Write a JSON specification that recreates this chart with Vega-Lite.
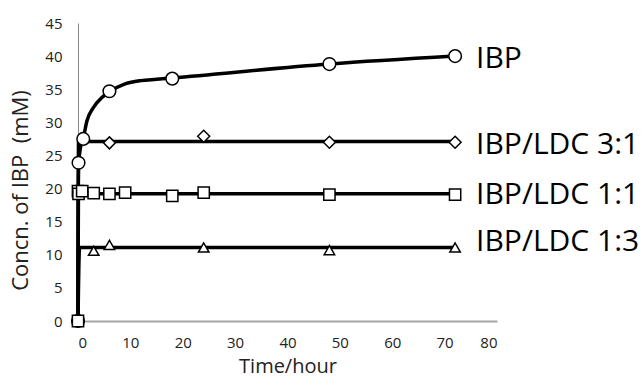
{
  "$schema": "https://vega.github.io/schema/vega-lite/v6.json",
  "autosize": "none",
  "width": 419,
  "height": 298,
  "padding": {"left": 78, "top": 23, "right": 145, "bottom": 57},
  "background": "white",
  "config": {"view": {"stroke": null}, "font": "Open Sans"},
  "datasets": {
    "pts": [
      {"series": "IBP", "t": 0, "c": 0},
      {"series": "IBP", "t": 0.1, "c": 23.9},
      {"series": "IBP", "t": 1, "c": 27.5},
      {"series": "IBP", "t": 6, "c": 34.7},
      {"series": "IBP", "t": 18, "c": 36.6},
      {"series": "IBP", "t": 48, "c": 38.8},
      {"series": "IBP", "t": 72, "c": 40.0},
      {"series": "IBP/LDC 3:1", "t": 6, "c": 26.9},
      {"series": "IBP/LDC 3:1", "t": 24, "c": 27.9},
      {"series": "IBP/LDC 3:1", "t": 48, "c": 27.0},
      {"series": "IBP/LDC 3:1", "t": 72, "c": 27.0},
      {"series": "IBP/LDC 1:1", "t": 0, "c": 0},
      {"series": "IBP/LDC 1:1", "t": 0, "c": 19.6},
      {"series": "IBP/LDC 1:1", "t": 0.1, "c": 19.2},
      {"series": "IBP/LDC 1:1", "t": 0.8, "c": 19.6},
      {"series": "IBP/LDC 1:1", "t": 3, "c": 19.3},
      {"series": "IBP/LDC 1:1", "t": 6, "c": 19.2},
      {"series": "IBP/LDC 1:1", "t": 9, "c": 19.4},
      {"series": "IBP/LDC 1:1", "t": 18, "c": 18.9},
      {"series": "IBP/LDC 1:1", "t": 24, "c": 19.4},
      {"series": "IBP/LDC 1:1", "t": 48, "c": 19.1},
      {"series": "IBP/LDC 1:1", "t": 72, "c": 19.1},
      {"series": "IBP/LDC 1:3", "t": 3, "c": 10.6},
      {"series": "IBP/LDC 1:3", "t": 6, "c": 11.5},
      {"series": "IBP/LDC 1:3", "t": 24, "c": 11.1},
      {"series": "IBP/LDC 1:3", "t": 48, "c": 10.7},
      {"series": "IBP/LDC 1:3", "t": 72, "c": 11.1}
    ],
    "fit": [
      {"series": "IBP", "t": 0, "c": 0},
      {"series": "IBP", "t": 0.05, "c": 20},
      {"series": "IBP", "t": 0.15, "c": 24},
      {"series": "IBP", "t": 0.5, "c": 26.3},
      {"series": "IBP", "t": 1, "c": 27.6},
      {"series": "IBP", "t": 1.7, "c": 30.2},
      {"series": "IBP", "t": 3, "c": 32.3},
      {"series": "IBP", "t": 4.5, "c": 33.7},
      {"series": "IBP", "t": 6, "c": 34.6},
      {"series": "IBP", "t": 9, "c": 35.8},
      {"series": "IBP", "t": 12, "c": 36.3},
      {"series": "IBP", "t": 15, "c": 36.5},
      {"series": "IBP", "t": 18, "c": 36.7},
      {"series": "IBP", "t": 48, "c": 38.8},
      {"series": "IBP", "t": 72, "c": 40.0},
      {"series": "IBP/LDC 3:1", "t": 0, "c": 0},
      {"series": "IBP/LDC 3:1", "t": 0.1, "c": 27.1},
      {"series": "IBP/LDC 3:1", "t": 72, "c": 27.1},
      {"series": "IBP/LDC 1:1", "t": 0, "c": 0},
      {"series": "IBP/LDC 1:1", "t": 0.1, "c": 19.2},
      {"series": "IBP/LDC 1:1", "t": 72, "c": 19.2},
      {"series": "IBP/LDC 1:3", "t": 0, "c": 0},
      {"series": "IBP/LDC 1:3", "t": 0.3, "c": 11.1},
      {"series": "IBP/LDC 1:3", "t": 72, "c": 11.1}
    ],
    "labels": [
      {"series": "IBP", "t": 72, "c": 39.6},
      {"series": "IBP/LDC 3:1", "t": 72, "c": 26.6},
      {"series": "IBP/LDC 1:1", "t": 72, "c": 19.0},
      {"series": "IBP/LDC 1:3", "t": 72, "c": 11.9}
    ]
  },
  "encoding": {
    "x": {
      "field": "t", "type": "quantitative",
      "scale": {"domain": [0, 80], "nice": false, "zero": true},
      "axis": {
        "title": "Time/hour", "values": [0,10,20,30,40,50,60,70,80],
        "grid": false, "ticks": false,
        "domainColor": "#a6a6a6", "domainWidth": 2,
        "labelFontSize": 15, "labelColor": "#222", "labelPadding": 14, "labelFont": "Open Sans",
        "titleFontSize": 20, "titleFontWeight": "normal", "titleColor": "#222", "titlePadding": 6, "titleFont": "Open Sans"
      }
    },
    "y": {
      "field": "c", "type": "quantitative",
      "scale": {"domain": [0, 45], "nice": false},
      "axis": {
        "title": "Concn. of IBP\u00a0\u00a0(mM)", "values": [0,5,10,15,20,25,30,35,40,45],
        "grid": false, "ticks": false,
        "domainColor": "#888", "domainWidth": 1,
        "labelFontSize": 15, "labelColor": "#222", "labelPadding": 16, "labelFont": "Open Sans",
        "titleFontSize": 22, "titleFontWeight": "normal", "titleColor": "#222", "titlePadding": 12, "titleFont": "Open Sans",
        "titleY": 167
      }
    }
  },
  "layer": [
    {
      "data": {"name": "fit"},
      "mark": {"type": "line", "color": "black", "strokeWidth": 3.5, "interpolate": "monotone"},
      "encoding": {"detail": {"field": "series"}}
    },
    {
      "data": {"name": "pts"},
      "mark": {"type": "point", "filled": true, "fill": "white", "stroke": "black", "strokeWidth": 1.5, "opacity": 1},
      "encoding": {
        "shape": {
          "field": "series", "type": "nominal",
          "scale": {"domain": ["IBP", "IBP/LDC 3:1", "IBP/LDC 1:1", "IBP/LDC 1:3"], "range": ["circle", "diamond", "square", "triangle-up"]},
          "legend": null
        },
        "size": {
          "field": "series", "type": "nominal",
          "scale": {"domain": ["IBP", "IBP/LDC 3:1", "IBP/LDC 1:1", "IBP/LDC 1:3"], "range": [160, 110, 170, 180]},
          "legend": null
        }
      }
    },
    {
      "data": {"name": "labels"},
      "mark": {"type": "text", "align": "left", "baseline": "middle", "dx": 21, "fontSize": 30, "font": "Open Sans", "color": "black"},
      "encoding": {"text": {"field": "series"}}
    }
  ]
}
